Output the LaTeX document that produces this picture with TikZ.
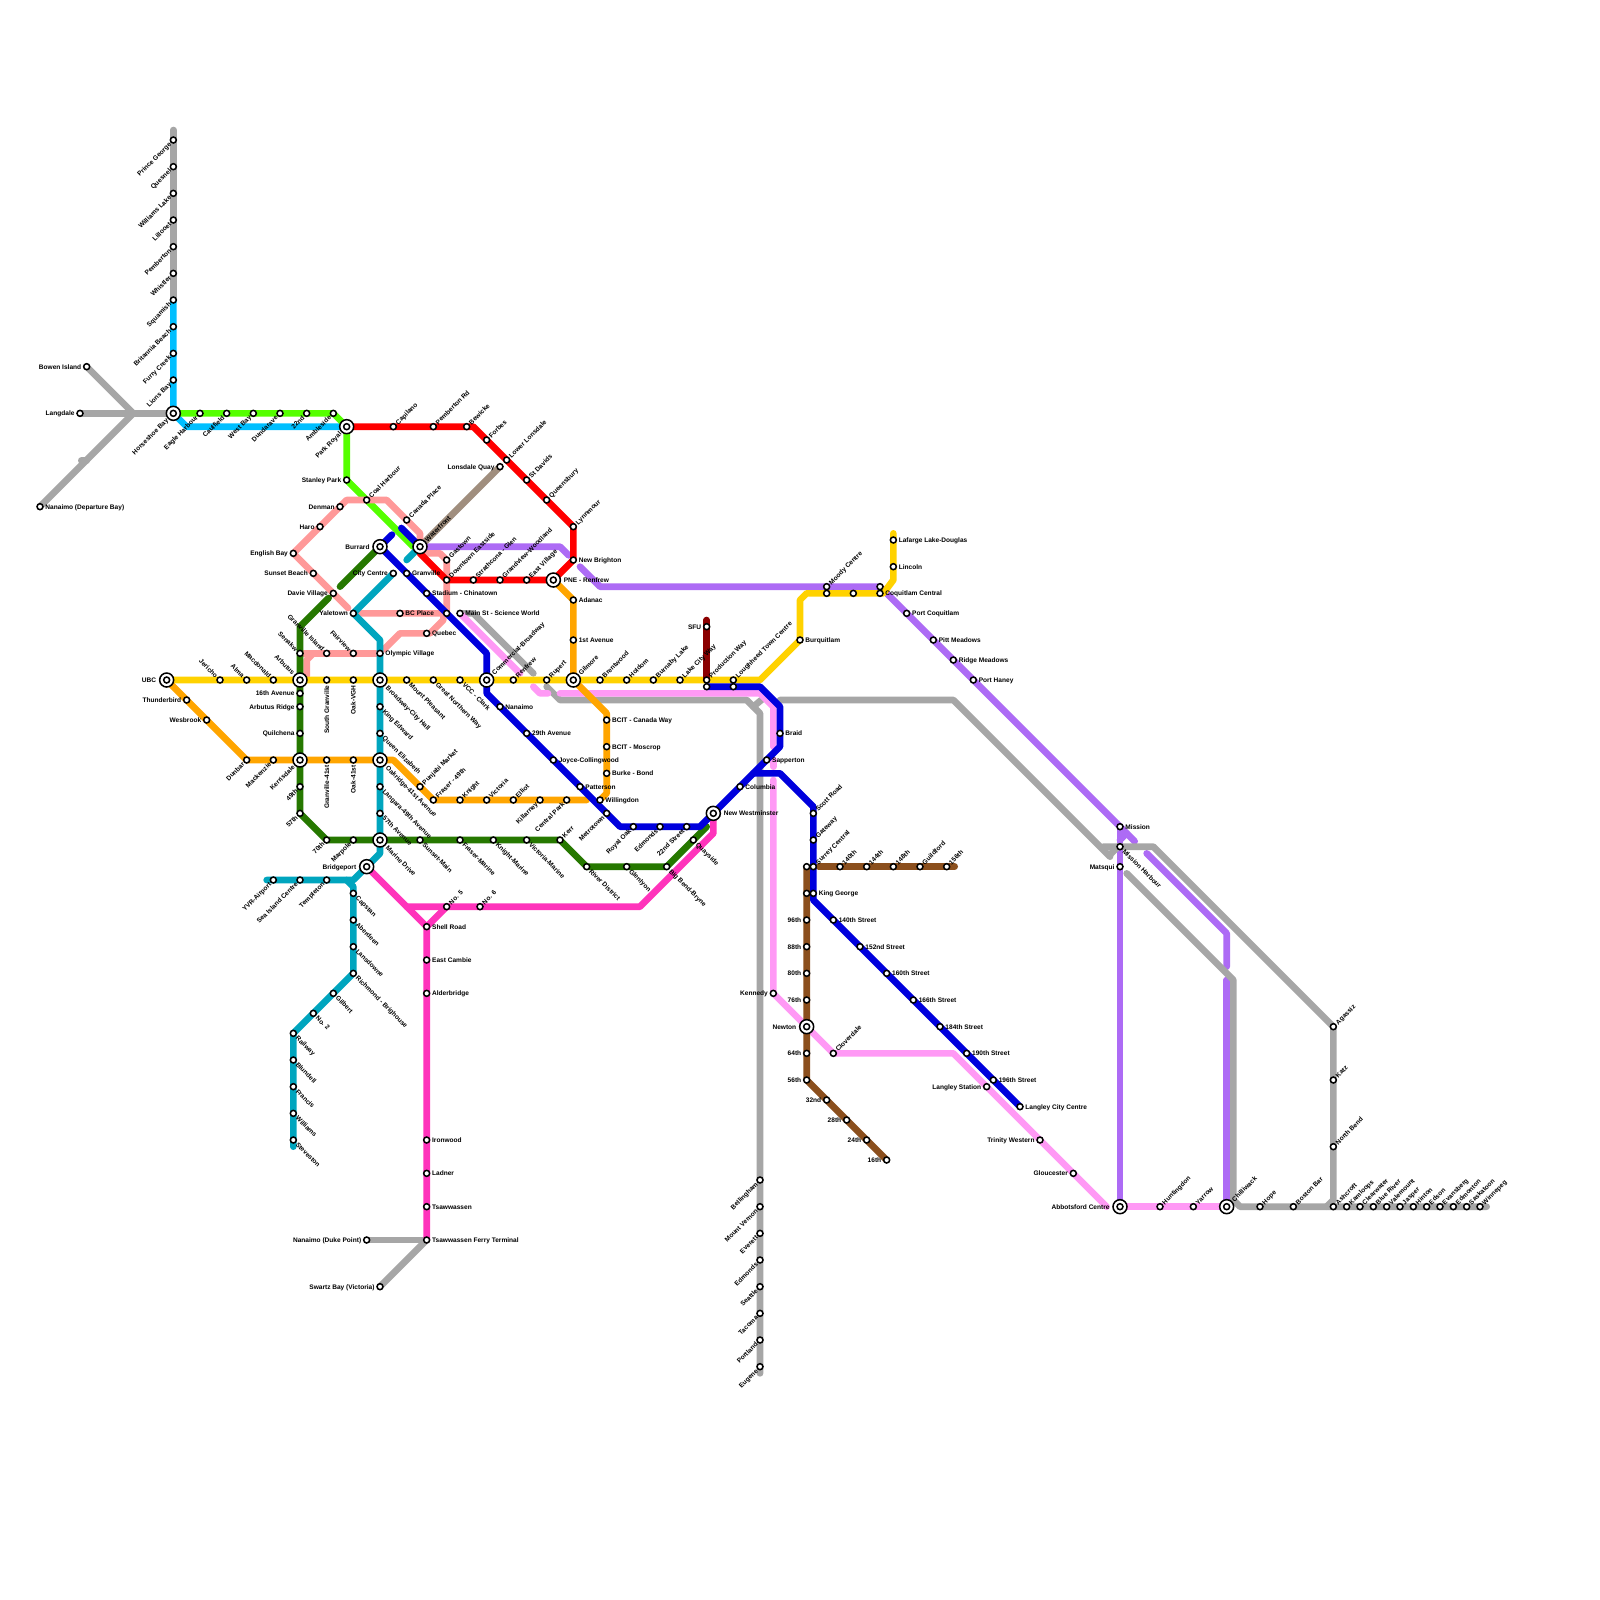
\documentclass[tikz,border=0pt]{standalone}
\usepackage{fontspec}
\setmainfont{Liberation Sans}[BoldFont={Liberation Sans Bold}]
\usetikzlibrary{backgrounds}
\pgfdeclarelayer{lines}
\pgfsetlayers{lines,main}
\definecolor{cred}{HTML}{FF0000}
\definecolor{cgreen}{HTML}{55FF00}
\definecolor{csky}{HTML}{00BFFF}
\definecolor{cgrey}{HTML}{A6A6A6}
\definecolor{csalmon}{HTML}{FF9999}
\definecolor{cpurple}{HTML}{AD6BF5}
\definecolor{corange}{HTML}{FFA500}
\definecolor{cyellow}{HTML}{FFD200}
\definecolor{cteal}{HTML}{00A5BE}
\definecolor{cdgreen}{HTML}{267800}
\definecolor{cblue}{HTML}{0000DD}
\definecolor{cpink}{HTML}{FF99F5}
\definecolor{cmagenta}{HTML}{FF33BB}
\definecolor{cbrown}{HTML}{8B4F1D}
\definecolor{cdred}{HTML}{8B0000}
\definecolor{ctaupe}{HTML}{A08E7E}
\tikzset{
  ln/.style={line width=0.1cm,line cap=round,line join=round},
  stopmark/.style={circle,draw=black,fill=white,line width=0.65pt,minimum size=0.09cm,inner sep=0pt},
  hubmark/.style={circle,draw=black,fill=white,line width=0.65pt,minimum size=0.21cm,inner sep=0pt},
  lbl/.style={inner sep=0pt,text=black,font=\bfseries\fontsize{2.8}{3.2}\selectfont,text height=2pt,text depth=0pt},
  lblE/.style={anchor=west,shift={(#1*0.75,0)}},
  lblW/.style={anchor=east,shift={(-#1*0.75,0)}},
  lblNE/.style={anchor=west,shift={(#1*0.45,-#1*0.45)},rotate=45},
  lblSW/.style={anchor=east,shift={(-#1*0.45,#1*0.45)},rotate=45},
  lblSE/.style={anchor=west,shift={(#1*0.5,#1*0.5)},rotate=-45},
  lblNW/.style={anchor=east,shift={(-#1*0.45,-#1*0.45)},rotate=-45},
  lblS/.style={anchor=east,shift={(0,#1*0.75)},rotate=90},
}
\newcommand{\stn}[5]{\node[stopmark] (#1) at (#2,#3) {};\node[lbl,lbl#4=1] (#1-t) at (#2,#3) {#5};}
\newcommand{\stb}[3]{\node[stopmark] (#1) at (#2,#3) {};}
\newcommand{\hubn}[5]{\node[hubmark] (#1) at (#2,#3) {};\node[stopmark] (#1-i) at (#2,#3) {};\node[lbl,lbl#4=2] (#1-t) at (#2,#3) {#5};}
\begin{document}
\begin{tikzpicture}[x=0.1cm,y=-0.1cm]
\useasboundingbox (0,0) rectangle (240,240);
\begin{pgfonlayer}{lines}\fill[white] (0,0) rectangle (240,240);\end{pgfonlayer}
% stations: north shore / sea to sky
\stn{princegeorge}{26}{21}{SW}{Prince George}
\stn{quesnel}{26}{25}{SW}{Quesnel}
\stn{williamslake}{26}{29}{SW}{Williams Lake}
\stn{lillooet}{26}{33}{SW}{Lillooet}
\stn{pemberton}{26}{37}{SW}{Pemberton}
\stn{whistler}{26}{41}{SW}{Whistler}
\stn{squamish}{26}{45}{SW}{Squamish}
\stn{britannia}{26}{49}{SW}{Britannia Beach}
\stn{furry}{26}{53}{SW}{Furry Creek}
\stn{lions}{26}{57}{SW}{Lions Bay}
\hubn{horseshoe}{26}{62}{SW}{Horseshoe Bay}
\stn{eagle}{30}{62}{SW}{Eagle Harbour}
\stn{caulfield}{34}{62}{SW}{Caulfield}
\stn{westbay}{38}{62}{SW}{West Bay}
\stn{dundarave}{42}{62}{SW}{Dundarave}
\stn{twentysecond}{46}{62}{SW}{22nd}
\stn{ambleside}{50}{62}{SW}{Ambleside}
\hubn{parkroyal}{52}{64}{SW}{Park Royal}
\stn{bowen}{13}{55}{W}{Bowen Island}
\stn{langdale}{12}{62}{W}{Langdale}
\stn{departure}{6}{76}{E}{Nanaimo (Departure Bay)}
\stn{capilano}{59}{64}{NE}{Capilano}
\stn{pembertonrd}{65}{64}{NE}{Pemberton Rd}
\stn{bewicke}{70}{64}{NE}{Bewicke}
\stn{forbes}{73}{66}{NE}{Forbes}
\stn{lowerlonsdale}{76}{69}{NE}{Lower Lonsdale}
\stn{lonsdalequay}{75}{70}{W}{Lonsdale Quay}
\stn{stdavids}{79}{72}{NE}{St Davids}
\stn{queensbury}{82}{75}{NE}{Queensbury}
\stn{lynnmour}{86}{79}{NE}{Lynnmour}
\stn{newbrighton}{86}{84}{E}{New Brighton}
\hubn{pne}{83}{87}{E}{PNE - Renfrew}
\stn{eastvillage}{79}{87}{NE}{East Village}
\stn{grandview}{75}{87}{NE}{Grandview-Woodland}
\stn{strathcona}{71}{87}{NE}{Strathcona - Glen}
\stn{dtes}{67}{87}{NE}{Downtown Eastside}
\stn{gastown}{67}{84}{NE}{Gastown}
\hubn{waterfront}{63}{82}{NE}{Waterfront}
\hubn{burrard}{57}{82}{W}{Burrard}
\stn{canadaplace}{61}{78}{NE}{Canada Place}
\stn{coalharbour}{55}{75}{NE}{Coal Harbour}
\stn{stanleypark}{52}{72}{W}{Stanley Park}
\stn{denman}{51}{76}{W}{Denman}
\stn{haro}{48}{79}{W}{Haro}
\stn{englishbay}{44}{83}{W}{English Bay}
\stn{sunsetbeach}{47}{86}{W}{Sunset Beach}
\stn{davie}{50}{89}{W}{Davie Village}
\stn{citycentre}{59}{86}{W}{City Centre}
\stn{granville}{61}{86}{E}{Granville}
\stn{stadium}{64}{89}{E}{Stadium - Chinatown}
\stn{yaletown}{53}{92}{W}{Yaletown}
\stn{bcplace}{60}{92}{E}{BC Place}
\stb{unnamedA}{67}{92}
\stn{mainst}{69}{92}{E}{Main St - Science World}
\stn{quebec}{64}{95}{E}{Quebec}
\stn{olympic}{57}{98}{E}{Olympic Village}
\stn{fairview}{53}{98}{NW}{Fairview}
\stn{granisland}{49}{98}{NW}{Granville Island}
\stn{senakw}{45}{98}{NW}{Senakw}
% Broadway
\hubn{ubc}{25}{102}{W}{UBC}
\stn{jericho}{33}{102}{NW}{Jericho}
\stn{alma}{37}{102}{NW}{Alma}
\stn{macdonald}{41}{102}{NW}{Macdonald}
\hubn{arbutus}{45}{102}{NW}{Arbutus}
\stn{southgran}{49}{102}{S}{South Granville}
\stn{oakvgh}{53}{102}{S}{Oak-VGH}
\hubn{broadway}{57}{102}{SE}{Broadway-City Hall}
\stn{mtpleasant}{61}{102}{SE}{Mount Pleasant}
\stn{gnw}{65}{102}{SE}{Great Northern Way}
\stn{vcc}{69}{102}{SE}{VCC - Clark}
\hubn{commercial}{73}{102}{NE}{Commercial-Broadway}
\stn{renfrew}{77}{102}{NE}{Renfrew}
\stn{rupert}{82}{102}{NE}{Rupert}
\hubn{gilmore}{86}{102}{NE}{Gilmore}
\stn{brentwood}{90}{102}{NE}{Brentwood}
\stn{holdom}{94}{102}{NE}{Holdom}
\stn{burnabylake}{98}{102}{NE}{Burnaby Lake}
\stn{lakecity}{102}{102}{NE}{Lake City Way}
\stn{production}{106}{102}{NE}{Production Way}
\stb{productionb}{106}{103}
\stn{lougheed}{110}{102}{NE}{Loughheed Town Centre}
\stb{lougheedb}{110}{103}
\stn{sfu}{106}{94}{W}{SFU}
\stn{adanac}{86}{90}{E}{Adanac}
\stn{firstave}{86}{96}{E}{1st Avenue}
\stn{nanaimo}{75}{106}{E}{Nanaimo}
\stn{twentyninth}{79}{110}{E}{29th Avenue}
\stn{joyce}{83}{114}{E}{Joyce-Collingwood}
\stn{patterson}{87}{118}{E}{Patterson}
\stn{willingdon}{90}{120}{E}{Willingdon}
\stn{metrotown}{91}{122}{SW}{Metrotown}
\stn{royaloak}{95}{124}{SW}{Royal Oak}
\stn{edmondsb}{99}{124}{SW}{Edmonds}
\stn{twentysecondst}{103}{124}{SW}{22nd Street}
\stn{bcitcw}{91}{108}{E}{BCIT - Canada Way}
\stn{bcitm}{91}{112}{E}{BCIT - Moscrop}
\stn{burke}{91}{116}{E}{Burke - Bond}
\hubn{newwest}{107}{122}{E}{New Westminster}
\stn{columbia}{111}{118}{E}{Columbia}
\stn{sapperton}{115}{114}{E}{Sapperton}
\stn{braid}{117}{110}{E}{Braid}
\stn{scott}{122}{122}{NE}{Scott Road}
\stn{gateway}{122}{126}{NE}{Gateway}
\stn{surrey}{122}{130}{NE}{Surrey Central}
\stb{surreyb}{121}{130}
\stn{kinggeorge}{122}{134}{E}{King George}
\stb{kinggeorgeb}{121}{134}
% Cambie / Arbutus corridor
\stn{sixteenth}{45}{104}{W}{16th Avenue}
\stn{arbutusridge}{45}{106}{W}{Arbutus Ridge}
\stn{quilchena}{45}{110}{W}{Quilchena}
\hubn{kerrisdale}{45}{114}{SW}{Kerrisdale}
\stn{fortyninth}{45}{118}{SW}{49th}
\stn{fiftyseventh}{45}{122}{SW}{57th}
\stn{seventieth}{49}{126}{SW}{70th}
\stn{marpole}{53}{126}{SW}{Marpole}
\hubn{marinedrive}{57}{126}{SE}{Marine Drive}
\stn{thunderbird}{28}{105}{W}{Thunderbird}
\stn{wesbrook}{31}{108}{W}{Wesbrook}
\stn{dunbar}{37}{114}{SW}{Dunbar}
\stn{mackenzie}{41}{114}{SW}{Mackenzie}
\stn{gran41}{49}{114}{S}{Granville-41st}
\stn{oak41}{53}{114}{S}{Oak-41st}
\hubn{oakridge}{57}{114}{SE}{Oakridge-41st Avenue}
\stn{kingedward}{57}{106}{SE}{King Edward}
\stn{queene}{57}{110}{SE}{Queen Elizabeth}
\stn{langara}{57}{118}{SE}{Langara-49th Avenue}
\stn{ave57}{57}{122}{SE}{57th Avenue}
\stn{punjabi}{63}{118}{NE}{Punjabi Market}
\stn{fraser49}{65}{120}{NE}{Fraser - 49th}
\stn{knight}{69}{120}{NE}{Knight}
\stn{victoria}{73}{120}{NE}{Victoria}
\stn{elliot}{77}{120}{NE}{Elliot}
\stn{killarney}{81}{120}{SW}{Killarney}
\stn{centralpark}{85}{120}{SW}{Central Park}
\stn{sunsetmain}{63}{126}{SE}{Sunset-Main}
\stn{frasermarine}{69}{126}{SE}{Fraser-Marine}
\stn{knightmarine}{74}{126}{SE}{Knight-Marine}
\stn{victoriamarine}{79}{126}{SE}{Victoria-Marine}
\stn{kerr}{84}{126}{NE}{Kerr}
\stn{river}{88}{130}{SE}{River District}
\stn{glenlyon}{94}{130}{SE}{Glenlyon}
\stn{bigbend}{100}{130}{SE}{Big Bend-Bryne}
\stn{quayside}{104}{126}{SE}{Quayside}
% Richmond / Delta
\hubn{bridgeport}{55}{130}{W}{Bridgeport}
\stn{yvr}{41}{132}{SW}{YVR-Airport}
\stn{seaisland}{45}{132}{SW}{Sea Island Centre}
\stn{templeton}{49}{132}{SW}{Templeton}
\stn{capstan}{53}{134}{SE}{Capstan}
\stn{aberdeen}{53}{138}{SE}{Aberdeen}
\stn{lansdowne}{53}{142}{SE}{Lansdowne}
\stn{brighouse}{53}{146}{SE}{Richmond - Brighouse}
\stn{gilbert}{50}{149}{SE}{Gilbert}
\stn{notwo}{47}{152}{SE}{No. 2}
\stn{railway}{44}{155}{SE}{Railway}
\stn{blundell}{44}{159}{SE}{Blundell}
\stn{francis}{44}{163}{SE}{Francis}
\stn{williams}{44}{167}{SE}{Williams}
\stn{steveston}{44}{171}{SE}{Steveston}
\stn{nofive}{67}{136}{NE}{No. 5}
\stn{nosix}{72}{136}{NE}{No. 6}
\stn{shell}{64}{139}{E}{Shell Road}
\stn{cambie}{64}{144}{E}{East Cambie}
\stn{alderbridge}{64}{149}{E}{Alderbridge}
\stn{ironwood}{64}{171}{E}{Ironwood}
\stn{ladner}{64}{176}{E}{Ladner}
\stn{tsawwassen}{64}{181}{E}{Tsawwassen}
\stn{ferry}{64}{186}{E}{Tsawwassen Ferry Terminal}
\stn{duke}{55}{186}{W}{Nanaimo (Duke Point)}
\stn{swartz}{57}{193}{W}{Swartz Bay (Victoria)}
% south grey
\stn{bellingham}{114}{177}{SW}{Bellingham}
\stn{mtvernon}{114}{181}{SW}{Mount Vernon}
\stn{everett}{114}{185}{SW}{Everett}
\stn{edmondsc}{114}{189}{SW}{Edmonds}
\stn{seattle}{114}{193}{SW}{Seattle}
\stn{tacoma}{114}{197}{SW}{Tacoma}
\stn{portland}{114}{201}{SW}{Portland}
\stn{eugene}{114}{205}{SW}{Eugene}
% Surrey
\stn{kennedy}{116}{149}{W}{Kennedy}
\stn{s96}{121}{138}{W}{96th}
\stn{s88}{121}{142}{W}{88th}
\stn{s80}{121}{146}{W}{80th}
\stn{s76}{121}{150}{W}{76th}
\hubn{newton}{121}{154}{W}{Newton}
\stn{s64}{121}{158}{W}{64th}
\stn{s56}{121}{162}{W}{56th}
\stn{s32}{124}{165}{W}{32nd}
\stn{s28}{127}{168}{W}{28th}
\stn{s24}{130}{171}{W}{24th}
\stn{s16}{133}{174}{W}{16th}
\stn{cloverdale}{125}{158}{NE}{Cloverdale}
\stn{e140}{126}{130}{NE}{140th}
\stn{e144}{130}{130}{NE}{144th}
\stn{e148}{134}{130}{NE}{148th}
\stn{guildford}{138}{130}{NE}{Guildford}
\stn{e156}{142}{130}{NE}{156th}
\stn{st140}{125}{138}{E}{140th Street}
\stn{st152}{129}{142}{E}{152nd Street}
\stn{st160}{133}{146}{E}{160th Street}
\stn{st166}{137}{150}{E}{166th Street}
\stn{st184}{141}{154}{E}{184th Street}
\stn{st190}{145}{158}{E}{190th Street}
\stn{st196}{149}{162}{E}{196th Street}
\stn{langleycc}{153}{166}{E}{Langley City Centre}
\stn{langleystn}{148}{163}{W}{Langley Station}
\stn{trinity}{156}{171}{W}{Trinity Western}
\stn{gloucester}{161}{176}{W}{Gloucester}
% Fraser Valley
\hubn{abbotsford}{168}{181}{W}{Abbotsford Centre}
\stn{huntingdon}{174}{181}{NE}{Huntingdon}
\stn{yarrow}{179}{181}{NE}{Yarrow}
\hubn{chilliwack}{184}{181}{NE}{Chilliwack}
\stn{hope}{189}{181}{NE}{Hope}
\stn{bostonbar}{194}{181}{NE}{Boston Bar}
\stn{ashcroft}{200}{181}{NE}{Ashcroft}
\stn{kamloops}{202}{181}{NE}{Kamloops}
\stn{clearwater}{204}{181}{NE}{Clearwater}
\stn{blueriver}{206}{181}{NE}{Blue River}
\stn{valemount}{208}{181}{NE}{Valemount}
\stn{jasper}{210}{181}{NE}{Jasper}
\stn{hinton}{212}{181}{NE}{Hinton}
\stn{edson}{214}{181}{NE}{Edson}
\stn{evansberg}{216}{181}{NE}{Evansberg}
\stn{edmonton}{218}{181}{NE}{Edmonton}
\stn{saskatoon}{220}{181}{NE}{Saskatoon}
\stn{winnepeg}{222}{181}{NE}{Winnepeg}
\stn{agassiz}{200}{154}{NE}{Agassiz}
\stn{katz}{200}{162}{NE}{Katz}
\stn{northbend}{200}{172}{NE}{North Bend}
\stn{mission}{168}{124}{E}{Mission}
\stn{missionharbour}{168}{127}{SE}{Mission Harbour}
\stn{matsqui}{168}{130}{W}{Matsqui}
% Tri-cities
\stn{lafarge}{134}{81}{E}{Lafarge Lake-Douglas}
\stn{lincoln}{134}{85}{E}{Lincoln}
\stb{coqtop}{132}{88}
\stn{coquitlam}{132}{89}{E}{Coquitlam Central}
\stn{moody}{124}{88}{NE}{Moody Centre}
\stb{moodyb}{124}{89}
\stb{unnamedB}{128}{89}
\stn{burquitlam}{120}{96}{E}{Burquitlam}
\stn{portcoq}{136}{92}{E}{Port Coquitlam}
\stn{pitt}{140}{96}{E}{Pitt Meadows}
\stn{ridge}{143}{99}{E}{Ridge Meadows}
\stn{haney}{146}{102}{E}{Port Haney}
% bend points and free line ends
\foreach \n/\x/\y in {
 topend/26/19.5, hsa/28/64, wja/20/62, nuba/12.2/69.1, nubb/13/69.1,
 gra/50/62, gra2/62/82,
 rda/71/64, rdb/86/79, rdc/63/83,
 saa/52/75, sab/58/75, sac/63/80, sad/52.2/91.2, sae/66/83, saf/67/84, sag/66.5/92, sat/66.5/93, sau/64.5/95, sah/60/95, sai/57.6/97.4,
 saj/45.3/98, sak/47/98, sal/46/99, sam/46/101.4,
 dga/51/88, dgb/49.3/89.7, dgc/45/94, dge/88/130, dgf/106/124,
 bla/58.8/80.2, blb/60.2/79.2, blc/73/98, bld/73/104, ble/93/124, blf/105/124, blg/117/112, blh/117/106, bli/114/103,
 blj/113/116, blk/117/116, bll/122/121, blm/122/135,
 tla/61/84, tlb/57/96, tlc/57/128, tld/53/132, tle/40/132, tlf/52/132, tlg/53/133, tlh/44/172,
 mga/61/136, mgb/96/136, mgc/107/125,
 ora/59/114, orb/88/120, orc/91/107, ord/91/119,
 yla/114/102, ylb/120/90, ylc/121/89, yld/132.5/89, yle/134/87, ylf/134/80,
 pua/84/82, pub/85.3/83.3, puc/87/85, pud/90/88, pue/132/88, puf/170.2/126.2, pug/168/126, puh/169/125,
 pui/172/128, puj/184/140, puk/184/145, pul/184/147,
 gya/69.5/92, gyb/71/92, gyc/80/101, gyd/82/103, gye/84/105, gyf/112/105, gyg/114/107, gyh/114/206,
 gyi/113/106, gyj/114.2/105, gyk/117/105, gyl/143/105, gym/166.5/128.5, gyn/169/131, gyo/184/146, gyp/185/147,
 gyq/185/180, gyr/186/181, gys/223/181, gyt/165.5/127, gyu/173/127, gyv/200/180, gyw/199/181, gyx/167.7/127, gyy/166.5/128.2, gyz/64/186,
 pka/78/101, pkb/80/103, pkc/81/104, pkd/82.2/104, pke/84/104, pkf/114/104, pkg/116/106, pkh/116/112, pki/116/114, pkj/116/115, pkk/116/117,
 pkl/143/158, pkm/166/181,
 dra/106/93, bra/122.8/130, brb/143.2/130, brc/121/130}
 {\coordinate (\n) at (\x,\y);}
\begin{pgfonlayer}{lines}
% purple
\draw[ln,cpurple] (waterfront.center) -- (pua) -- (pub);
\draw[ln,cpurple] (puc) -- (pud) -- (pue) -- (puf);
\draw[ln,cpurple] (mission.center) -- (abbotsford.center);
\draw[ln,cpurple] (pug) -- (puh);
\draw[ln,cpurple] (pui) -- (puj) -- (puk);
\draw[ln,cpurple] (pul) -- (chilliwack.center);
% grey
\draw[ln,cgrey] (topend) -- (squamish.center);
\draw[ln,cgrey] (bowen.center) -- (wja);
\draw[ln,cgrey] (departure.center) -- (wja);
\draw[ln,cgrey] (langdale.center) -- (horseshoe.center);
\draw[ln,cgrey] (nuba) -- (nubb);
\draw[ln,cgrey] (gya) -- (gyb) -- (gyc);
\draw[ln,cgrey] (gyd) -- (gye) -- (gyf) -- (gyg) -- (gyh);
\draw[ln,cgrey] (gyi) -- (gyj);
\draw[ln,cgrey] (gyk) -- (gyl) -- (gym);
\draw[ln,cgrey] (gyn) -- (gyo) -- (gyp) -- (gyq) -- (gyr) -- (gys);
\draw[ln,cgrey] (gyt) -- (gyu) -- (agassiz.center) -- (gyv) -- (gyw);
\draw[ln,cgrey] (gyx) -- (gyy);
\draw[ln,cgrey] (duke.center) -- (gyz);
\draw[ln,cgrey] (swartz.center) -- (gyz);
% pink
\draw[ln,cpink] (mainst.center) -- (pka);
\draw[ln,cpink] (pkb) -- (pkc) -- (pkd);
\draw[ln,cpink] (pke) -- (pkf) -- (pkg) -- (pkh);
\draw[ln,cpink] (pki) -- (pkj);
\draw[ln,cpink] (pkk) -- (kennedy.center) -- (cloverdale.center) -- (pkl) -- (pkm);
\draw[ln,cpink] (abbotsford.center) -- (chilliwack.center);
% sky and green
\draw[ln,csky] (squamish.center) -- (horseshoe.center) -- (hsa) -- (parkroyal.center);
\draw[ln,cgreen] (horseshoe.center) -- (gra) -- (parkroyal.center) -- (stanleypark.center) -- (gra2) -- (waterfront.center);
% taupe
\draw[ln,ctaupe] (lonsdalequay.center) -- (waterfront.center);
% salmon
\draw[ln,csalmon] (waterfront.center) -- (sac) -- (sab) -- (saa) -- (englishbay.center) -- (sad);
\draw[ln,csalmon] (rdc) -- (sae) -- (saf) -- (unnamedA.center);
\draw[ln,csalmon] (yaletown.center) -- (sag) -- (sat) -- (sau) -- (sah) -- (sai);
\draw[ln,csalmon] (saj) -- (olympic.center);
\draw[ln,csalmon] (sak) -- (sal) -- (sam);
% red
\draw[ln,cred] (parkroyal.center) -- (rda) -- (rdb) -- (newbrighton.center) -- (pne.center) -- (dtes.center) -- (rdc) -- (waterfront.center);
% yellow
\draw[ln,cyellow] (ubc.center) -- (yla) -- (burquitlam.center) -- (ylb) -- (ylc) -- (yld) -- (yle) -- (ylf);
% teal
\draw[ln,cteal] (tla) -- (waterfront.center);
\draw[ln,cteal] (citycentre.center) -- (yaletown.center) -- (tlb) -- (tlc) -- (tld) -- (tle);
\draw[ln,cteal] (tlf) -- (tlg) -- (brighouse.center) -- (railway.center) -- (tlh);
% dark green
\draw[ln,cdgreen] (burrard.center) -- (dga);
\draw[ln,cdgreen] (dgb) -- (dgc) -- (fiftyseventh.center) -- (seventieth.center) -- (kerr.center) -- (dge) -- (bigbend.center) -- (dgf);
% orange
\draw[ln,corange] (ubc.center) -- (dunbar.center) -- (ora) -- (fraser49.center) -- (orb);
\draw[ln,corange] (pne.center) -- (adanac.center) -- (gilmore.center) -- (orc) -- (ord) -- (willingdon.center);
% brown
\draw[ln,cbrown] (brc) -- (s56.center) -- (s16.center);
\draw[ln,cbrown] (bra) -- (brb);
% dark red
\draw[ln,cdred] (dra) -- (production.center);
% magenta
\draw[ln,cmagenta] (bridgeport.center) -- (shell.center) -- (ferry.center);
\draw[ln,cmagenta] (shell.center) -- (nofive.center);
\draw[ln,cmagenta] (mga) -- (mgb) -- (mgc) -- (newwest.center);
% blue
\draw[ln,cblue] (burrard.center) -- (bla);
\draw[ln,cblue] (blb) -- (waterfront.center);
\draw[ln,cblue] (burrard.center) -- (blc) -- (bld) -- (ble) -- (blf) -- (blg) -- (blh) -- (bli) -- (productionb.center);
\draw[ln,cblue] (blj) -- (blk) -- (bll) -- (blm) -- (langleycc.center);
\end{pgfonlayer}
\end{tikzpicture}
\end{document}
